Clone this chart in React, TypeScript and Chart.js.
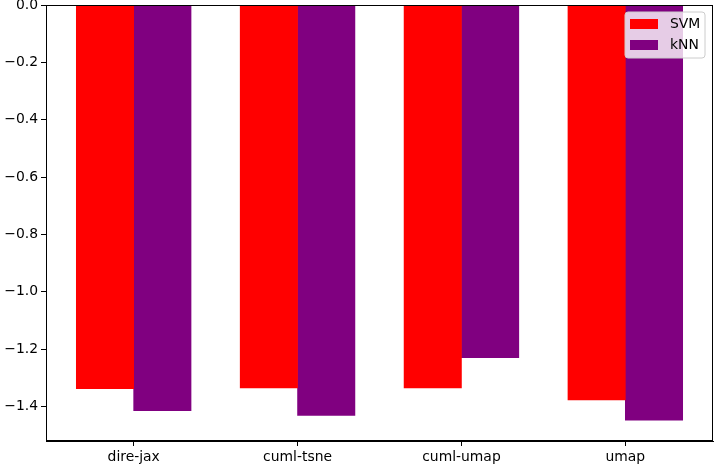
import React, { useEffect, useRef } from "react";
import { Chart, registerables } from "chart.js";

Chart.register(...registerables);

const categories = ["dire-jax", "cuml-tsne", "cuml-umap", "umap"];
const svmValues = [-1.338, -1.335, -1.335, -1.377];
const knnValues = [-1.415, -1.431, -1.23, -1.448];
const seriesLabels = ["SVM", "kNN"];
const seriesColors = ["red", "purple"];

const BAR_WIDTH = 0.35;
const FONT = "DejaVu Sans";
const FONT_SIZE = 13.9;

const frameAndLegend = {
  id: "frameAndLegend",
  afterDraw(chart: any) {
    const { ctx, chartArea } = chart;
    ctx.save();
    ctx.strokeStyle = "black";
    ctx.lineWidth = 1;
    ctx.strokeRect(
      Math.round(chartArea.left) + 0.5,
      Math.round(chartArea.top) + 0.5,
      Math.round(chartArea.right - chartArea.left) - 1,
      Math.round(chartArea.bottom - chartArea.top) - 1
    );
    // legend
    const x = chartArea.right - 88;
    const y = chartArea.top + 7;
    const w = 80;
    const h = 46;
    const r = 3;
    ctx.beginPath();
    ctx.moveTo(x + r, y);
    ctx.lineTo(x + w - r, y);
    ctx.quadraticCurveTo(x + w, y, x + w, y + r);
    ctx.lineTo(x + w, y + h - r);
    ctx.quadraticCurveTo(x + w, y + h, x + w - r, y + h);
    ctx.lineTo(x + r, y + h);
    ctx.quadraticCurveTo(x, y + h, x, y + h - r);
    ctx.lineTo(x, y + r);
    ctx.quadraticCurveTo(x, y, x + r, y);
    ctx.closePath();
    ctx.fillStyle = "rgba(255,255,255,0.8)";
    ctx.fill();
    ctx.strokeStyle = "#cccccc";
    ctx.stroke();
    ctx.font = `${FONT_SIZE}px "${FONT}"`;
    ctx.textBaseline = "middle";
    ctx.textAlign = "left";
    chart.data.datasets.forEach((ds: any, i: number) => {
      const cy = y + 12 + i * 21;
      ctx.fillStyle = ds.backgroundColor;
      ctx.fillRect(x + 5, cy - 5, 28, 10);
      ctx.fillStyle = "black";
      ctx.fillText(ds.label, x + 45, cy + 0.5);
    });
    ctx.restore();
  },
};

export default function App() {
  const ref = useRef<HTMLCanvasElement>(null);
  useEffect(() => {
    if (!ref.current) return;
    const n = categories.length;
    const span = n - 1 + BAR_WIDTH * 2;
    const xMin = -BAR_WIDTH - 0.05 * span;
    const xMax = n - 1 + BAR_WIDTH + 0.05 * span;
    const allVals = [...svmValues, ...knnValues];
    const yMin = Math.min(...allVals) * 1.05;
    const series = [svmValues, knnValues];
    const chart = new Chart(ref.current, {
      type: "bar",
      data: {
        datasets: series.map((vals, s) => ({
          label: seriesLabels[s],
          data: vals.map((v, i) => ({ x: i + (s - 0.5) * BAR_WIDTH, y: v })),
          backgroundColor: seriesColors[s],
          borderWidth: 0,
          grouped: false,
          categoryPercentage: 1,
          barPercentage: 1,
        })),
      },
      options: {
        animation: false,
        responsive: false,
        devicePixelRatio: 1,
        events: [],
        layout: { padding: { top: 5, right: 4, left: 0, bottom: 0 } },
        plugins: { legend: { display: false }, tooltip: { enabled: false } },
        scales: {
          x: {
            type: "linear",
            offset: false,
            min: xMin,
            max: xMax,
            afterFit: (scale: any) => {
              scale.height = 27;
              scale.paddingLeft = 0;
              scale.paddingRight = 0;
            },
            ticks: {
              stepSize: 1,
              includeBounds: false,
              autoSkip: false,
              maxRotation: 0,
              padding: 3,
              color: "black",
              font: { family: FONT, size: FONT_SIZE },
              callback: (v: any) => {
                const i = Math.round(Number(v));
                return Math.abs(Number(v) - i) < 1e-6 && categories[i] ? categories[i] : "";
              },
            },
            grid: {
              display: true,
              offset: false,
              drawOnChartArea: false,
              drawTicks: true,
              tickLength: 5,
              color: "black",
            },
            border: { display: true, color: "black", width: 1 },
          },
          y: {
            type: "linear",
            min: yMin,
            max: 0,
            afterFit: (scale: any) => {
              scale.width = 46;
              scale.paddingTop = 0;
              scale.paddingBottom = 0;
            },
            ticks: {
              stepSize: 0.2,
              includeBounds: false,
              padding: 3,
              color: "black",
              font: { family: FONT, size: FONT_SIZE },
              callback: (v: any) => Number(v).toFixed(1).replace("-", "\u2212"),
            },
            grid: {
              display: true,
              drawOnChartArea: false,
              drawTicks: true,
              tickLength: 5,
              color: "black",
            },
            border: { display: true, color: "black", width: 1 },
          },
        },
      },
      plugins: [frameAndLegend],
    });
    return () => chart.destroy();
  }, []);
  return (
    <div style={{ position: "fixed", left: 0, top: 0, width: 717, height: 468, background: "white" }}>
      <canvas ref={ref} width={717} height={468} style={{ display: "block" }} />
    </div>
  );
}
